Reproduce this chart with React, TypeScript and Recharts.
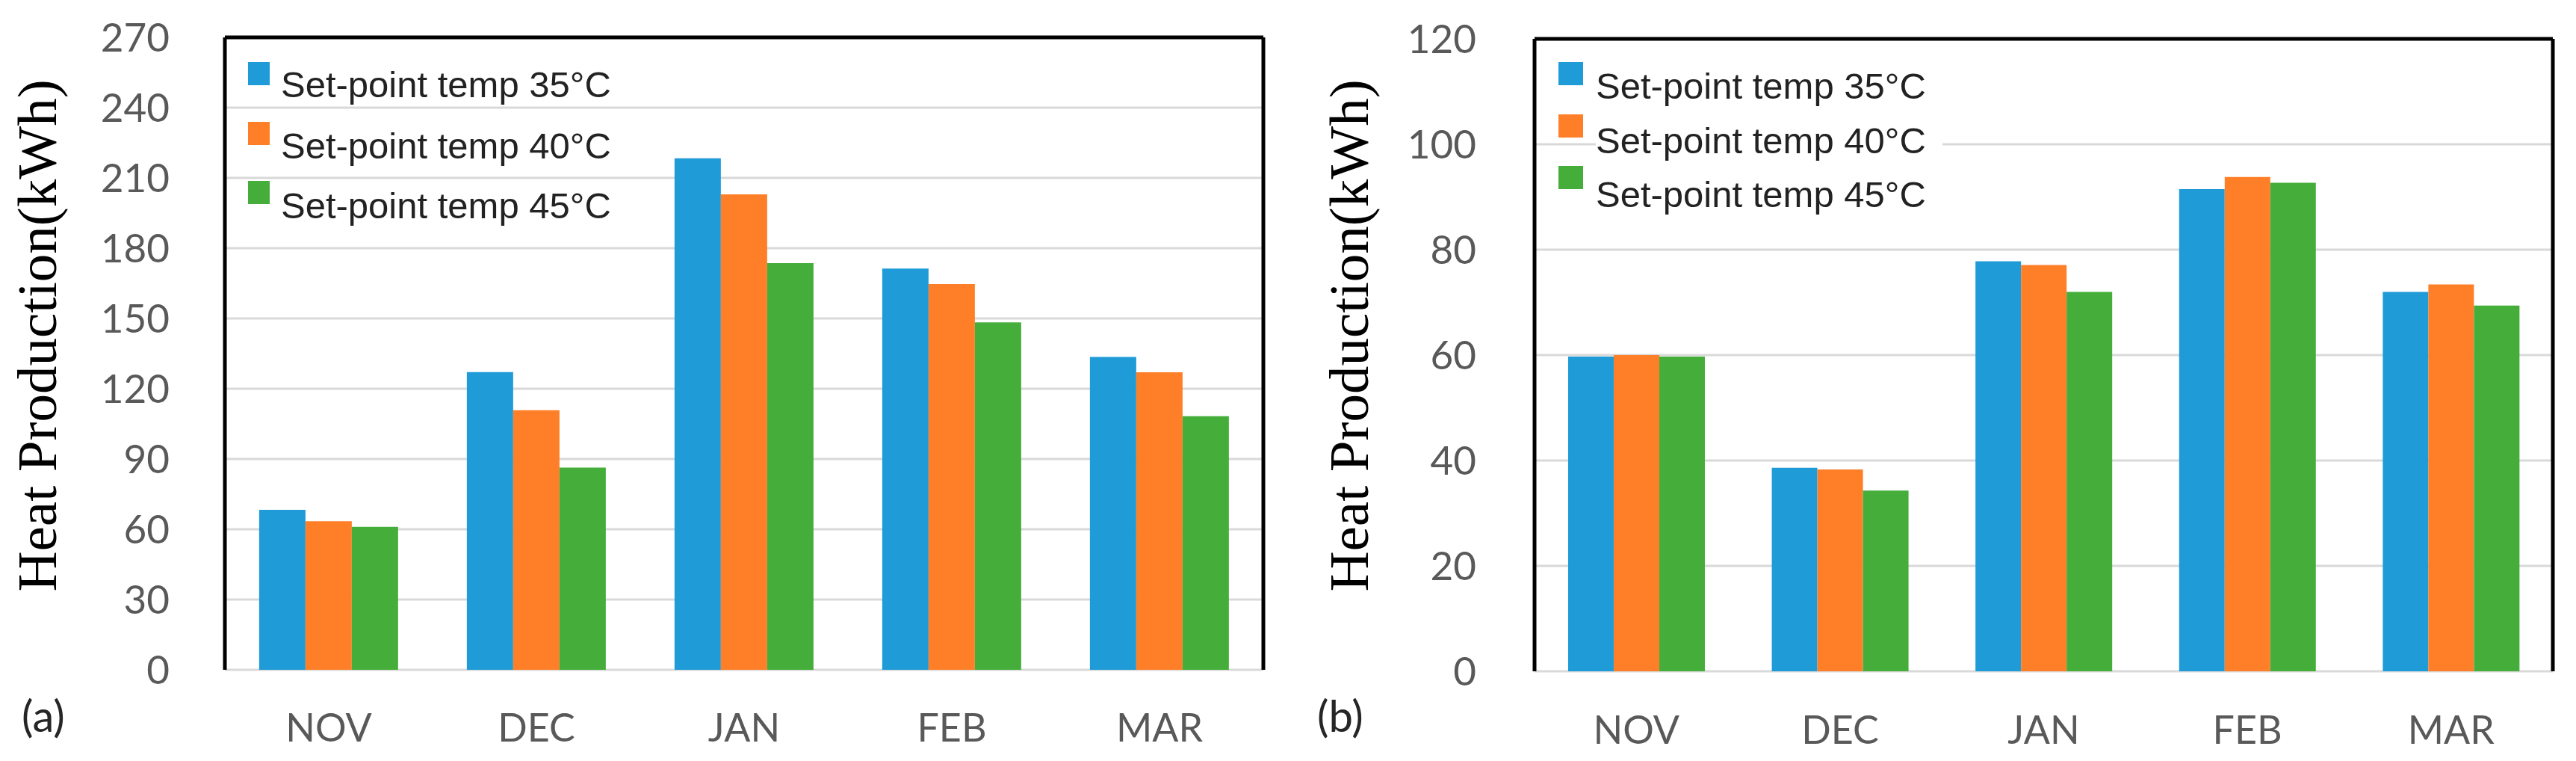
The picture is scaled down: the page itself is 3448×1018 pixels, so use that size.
import React from 'react';
import { BarChart, Bar, XAxis, YAxis, CartesianGrid, Legend } from 'recharts';

const months = ['NOV', 'DEC', 'JAN', 'FEB', 'MAR'];
const seriesNames = ['Set-point temp 35°C', 'Set-point temp 40°C', 'Set-point temp 45°C'];
const colors = ['#1f9bd8', '#fe7f27', '#45ae3b'];

// Panel (a)
const heatA35 = [68.3, 127.1, 218.4, 171.3, 133.6];
const heatA40 = [63.4, 110.8, 203.0, 164.7, 127.0];
const heatA45 = [61.0, 86.3, 173.6, 148.3, 108.3];
const ticksA = [0, 30, 60, 90, 120, 150, 180, 210, 240, 270];

// Panel (b)
const heatB35 = [59.7, 38.6, 77.8, 91.5, 72.0];
const heatB40 = [60.0, 38.3, 77.1, 93.8, 73.4];
const heatB45 = [59.7, 34.3, 72.0, 92.7, 69.4];
const ticksB = [0, 20, 40, 60, 80, 100, 120];

const yTitle = 'Heat Production(kWh)';

const buildRows = (a: number[], b: number[], c: number[]) =>
  months.map((m, i) => ({ month: m, s35: a[i], s40: b[i], s45: c[i] }));

const dataA = buildRows(heatA35, heatA40, heatA45);
const dataB = buildRows(heatB35, heatB40, heatB45);

const tickFont = { fill: '#595959', fontSize: 53, fontFamily: 'Lato, "Open Sans", sans-serif' };
const xTickFont = { fill: '#595959', fontSize: 52, fontFamily: 'Lato, "Open Sans", sans-serif' };

const makeTitle = (baseX: number, centerY: number) => () => (
  <text
    x={baseX}
    y={centerY}
    transform={`rotate(-90 ${baseX} ${centerY})`}
    textAnchor="middle"
    fontFamily='"Liberation Serif", "Times New Roman", serif'
    fontSize={75}
    fill="#000"
  >
    {yTitle}
  </text>
);

const makeTag = (tag: string, x: number, baseY: number) => () => (
  <text x={x} y={baseY} fontFamily='Lato, "Open Sans", sans-serif' fontSize={58} fill="#262626">
    {tag}
  </text>
);

const makeLegend = (markerW: number, markerTops: number[], textLeft: number, textTops: number[]) => (props: any) => {
  const payload = props.payload || [];
  return (
    <div style={{ position: 'relative', width: 700, height: 260 }}>
      {payload.map((entry: any, i: number) => (
        <React.Fragment key={i}>
          <div
            style={{
              position: 'absolute',
              left: 0,
              top: markerTops[i],
              width: markerW,
              height: 31,
              background: entry.color,
            }}
          />
          <div
            style={{
              position: 'absolute',
              left: textLeft,
              top: textTops[i],
              fontFamily: '"Liberation Sans", Arial, sans-serif',
              fontSize: 49,
              lineHeight: '49px',
              color: '#222',
              background: '#fff',
              whiteSpace: 'nowrap',
              paddingRight: 22,
            }}
          >
            {entry.value}
          </div>
        </React.Fragment>
      ))}
    </div>
  );
};

type PanelProps = {
  data: any[];
  ticks: number[];
  max: number;
  width: number;
  margin: { top: number; right: number; bottom: number; left: number };
  yWidth: number;
  yTickMargin: number;
  xTickMargin: number;
  titleX: number;
  tag: string;
  tagX: number;
  legendPos: { left: number; top: number };
  legend: (p: any) => any;
};

function Panel(p: PanelProps) {
  return (
    <BarChart
      width={p.width}
      height={1018}
      data={p.data}
      margin={p.margin}
      barCategoryGap="16.5%"
      barGap={0}
    >
      <CartesianGrid vertical={false} stroke="#d9d9d9" strokeWidth={3} />
      <XAxis
        dataKey="month"
        height={100}
        tickLine={false}
        axisLine={false}
        tick={xTickFont}
        tickMargin={p.xTickMargin}
        interval={0}
        label={makeTag(p.tag, p.tagX, 979)}
      />
      <XAxis
        xAxisId="top"
        orientation="top"
        height={1}
        tick={false}
        tickLine={false}
        axisLine={{ stroke: '#000', strokeWidth: 5 }}
      />
      <YAxis
        domain={[0, p.max]}
        ticks={p.ticks}
        interval={0}
        width={p.yWidth}
        tickLine={false}
        axisLine={{ stroke: '#000', strokeWidth: 5 }}
        tick={tickFont}
        tickMargin={p.yTickMargin}
        label={makeTitle(p.titleX, 449)}
      />
      <YAxis
        yAxisId="right"
        orientation="right"
        domain={[0, p.max]}
        width={1}
        tick={false}
        tickLine={false}
        axisLine={{ stroke: '#000', strokeWidth: 5 }}
      />
      <Legend
        layout="horizontal"
        verticalAlign="middle"
        align="center"
        wrapperStyle={{ left: p.legendPos.left, top: p.legendPos.top, width: 700, height: 260 }}
        content={p.legend}
      />
      <Bar dataKey="s35" name={seriesNames[0]} fill={colors[0]} isAnimationActive={false} />
      <Bar dataKey="s40" name={seriesNames[1]} fill={colors[1]} isAnimationActive={false} />
      <Bar dataKey="s45" name={seriesNames[2]} fill={colors[2]} isAnimationActive={false} />
    </BarChart>
  );
}

export default function App() {
  return (
    <div style={{ position: 'absolute', left: 0, top: 0, width: 3448, height: 1018, background: '#fff', overflow: 'hidden' }}>
      <div style={{ position: 'absolute', left: 0, top: 0 }}>
        <Panel
          data={dataA}
          ticks={ticksA}
          max={270}
          width={1720}
          margin={{ top: 49, right: 28, bottom: 22, left: 0 }}
          yWidth={301}
          yTickMargin={68}
          xTickMargin={53}
          titleX={75}
          tag="(a)"
          tagX={29}
          legendPos={{ left: 332, top: 83 }}
          legend={makeLegend(29, [0, 80, 159], 44, [6, 88, 168])}
        />
      </div>
      <div style={{ position: 'absolute', left: 1740, top: 0 }}>
        <Panel
          data={dataB}
          ticks={ticksB}
          max={120}
          width={1708}
          margin={{ top: 51, right: 30, bottom: 20, left: 0 }}
          yWidth={314}
          yTickMargin={72}
          xTickMargin={54}
          titleX={91}
          tag="(b)"
          tagX={23}
          legendPos={{ left: 346, top: 83 }}
          legend={makeLegend(33, [0, 70, 139], 50, [8, 81, 153])}
        />
      </div>
    </div>
  );
}
